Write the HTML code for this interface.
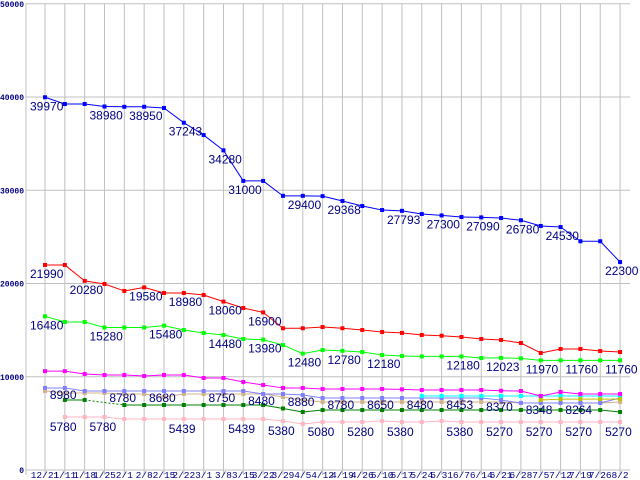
<!DOCTYPE html>
<html><head><meta charset="utf-8"><style>
html,body{margin:0;padding:0;background:#fff;}
svg{display:block;}
</style></head><body>
<svg id="chart" width="640" height="480" xmlns="http://www.w3.org/2000/svg"></svg>
<script>
const categories = ["12/21","1/11","1/18","1/25","2/1","2/8","2/15","2/22","3/1","3/8","3/15","3/22","3/29","4/5","4/12","4/19","4/26","5/10","5/17","5/24","5/31","6/7","6/14","6/21","6/28","7/5","7/12","7/19","7/26","8/2"];
const yTicks = [0,10000,20000,30000,40000,50000];
const blueValues = [39970,39250,39250,38980,38950,38950,38820,37243,35920,34280,31000,31000,29400,29400,29368,28850,28310,27880,27793,27450,27300,27130,27090,27020,26780,26170,26060,24530,24530,22300];
const redValues = [21990,21990,20280,19950,19200,19580,18980,18980,18770,18060,17370,16900,15200,15200,15330,15200,15010,14800,14700,14480,14400,14260,14050,13940,13620,12550,12980,12980,12760,12650];
const limeValues = [16480,15870,15870,15280,15280,15280,15480,15010,14690,14480,14050,13980,13400,12480,12870,12780,12650,12330,12230,12180,12180,12180,12010,12023,11970,11760,11760,11760,11760,11760];
const magentaValues = [10600,10600,10300,10190,10190,10080,10190,10190,9870,9870,9440,9120,8800,8800,8690,8690,8690,8690,8650,8580,8580,8580,8580,8500,8470,7940,8370,8150,8150,8150];
const periwinkleValues = [8800,8800,8470,8470,8470,8470,8470,8470,8470,8470,8470,8150,8150,8040,7720,7720,7720,7720,7720,7720,7720,7720,7720,7500,7190,7190,7190,7190,7190,7720];
const tanValues = [8470,8260,8260,8260,8150,8150,7830,8150,8150,8150,8150,8150,7830,7510,7290,7290,7290,7290,7290,7290,7290,7290,7290,7290,7190,7190,7190,7190,7190,7290];
const darkGreenValues = [null,7510,7510,null,6970,6970,6970,6970,6970,6970,6970,6970,6600,6220,6430,6430,6430,6430,6430,6430,6430,6430,6430,6430,6430,6430,6430,6430,6430,6220];
const pinkValues = [null,5680,5680,5680,5470,5470,5470,5470,5470,5470,5470,5470,5250,4930,5150,5150,5150,5250,5150,5150,5250,5150,5150,5150,5150,5150,5150,5150,5150,5150];
const cyanValues = [null,null,null,null,null,null,null,null,null,null,null,null,null,null,null,null,null,null,null,7940,7940,7940,7940,7940,7940,7940,7940,7940,7940,7940];
const oliveValues = [null,null,null,null,null,null,null,null,null,null,null,null,null,null,null,null,null,null,null,null,null,null,null,null,null,7510,7600,7600,7600,7600];
const blueLabelIdx = [0,3,5,7,9,10,13,15,18,20,22,24,26,29];
const blueLabelText = [39970,38980,38950,37243,34280,31000,29400,29368,27793,27300,27090,26780,24530,22300];
const redLabelIdx = [0,2,5,7,9,11];
const redLabelText = [21990,20280,19580,18980,18060,16900];
const limeLabelIdx = [0,3,6,9,11,13,15,17,21,23,25,27,29];
const limeLabelText = [16480,15280,15480,14480,13980,12480,12780,12180,12180,12023,11970,11760,11760];
const periLabelIdx = [1,4,6,9,11,13,15,17,19,21,23,25,27];
const periLabelText = [8980,8780,8680,8750,8480,8880,8780,8650,8480,8453,8370,8348,8264];
const pinkLabelIdx = [1,3,7,10,12,14,16,18,21,23,25,27,29];
const pinkLabelText = [5780,5780,5439,5439,5380,5080,5280,5380,5380,5270,5270,5270,5270];

const NS="http://www.w3.org/2000/svg";
const svg=document.getElementById('chart');
const X0=45, DX=19.83, Y0=470, YS=0.009325;
function xs(i){return X0+i*DX;}
function ys(v){return Y0-v*YS;}
function mk(tag,attrs,parent){const e=document.createElementNS(NS,tag);for(const k in attrs)e.setAttribute(k,attrs[k]);(parent||svg).appendChild(e);return e;}

const grid=mk('g',{});


categories.forEach((c,i)=>{
  const l=mk('line',{x1:xs(i),x2:xs(i),y1:ys(50000),y2:Y0+5,stroke:'#c0c0c0','stroke-width':1},grid);
  
  
  const t=mk('text',{x:xs(i),y:478,'text-anchor':'middle','font-family':'Liberation Mono, monospace','font-size':'9.5','fill':'#000080'});
  t.textContent=c;
  
  
});
yTicks.forEach(v=>{
  const l=mk('line',{x1:26,x2:630,y1:ys(v),y2:ys(v),stroke:'#c0c0c0','stroke-width':1},grid);
  
  
  const t=mk('text',{x:24,y:ys(v)+3,'text-anchor':'end','font-family':'Liberation Mono, monospace','font-size':'8','font-weight':'bold','fill':'#000080'});
  t.textContent=v;
  
  
});
const ax=mk('line',{x1:26,x2:26,y1:ys(50000),y2:Y0+5,stroke:'#c0c0c0'});



function series(vals,color,name){
  const g=mk('g',{});
  
  
  for(let i=0;i<vals.length-1;i++){
    if(vals[i]==null)continue;
    let j=i+1, dotted=false;
    if(vals[j]==null){ if(j+1<vals.length&&vals[j+1]!=null&&i>0){j=j+1;dotted=true;} else continue; }
    const l=mk('line',{x1:xs(i),y1:ys(vals[i]),x2:xs(j),y2:ys(vals[j]),stroke:color,'stroke-width':1},g);
    if(dotted)l.setAttribute('stroke-dasharray','2,2');
    
    
  }
  vals.forEach((v,i)=>{
    if(v==null)return;
    const r=mk('rect',{x:xs(i)-2,y:ys(v)-2,width:4,height:4,fill:color},g);
    
    
  });
}
function labels(vals,idx,texts,dy,name){
  idx.forEach((i,k)=>{
    const t=mk('text',{x:xs(i)-15,y:ys(vals[i])+dy,'font-family':'Liberation Sans, sans-serif','font-size':'12','fill':'#000080'});
    t.textContent=texts?texts[k]:vals[i];
    
    
  });
}
series(pinkValues,'#ffb6c1','pink-series');
series(darkGreenValues,'#008000','dark-green-series');
series(tanValues,'#d2b48c','tan-series');
series(periwinkleValues,'#8080ff','periwinkle-series');
series(cyanValues,'#00ffff','cyan-series');
series(oliveValues,'#c0c000','olive-series');
series(magentaValues,'#ff00ff','magenta-series');
series(limeValues,'#00ff00','lime-series');
series(redValues,'#ff0000','red-series');
series(blueValues,'#0000ff','blue-series');
labels(blueValues,blueLabelIdx,blueLabelText,13,'blue-value-label');
labels(redValues,redLabelIdx,redLabelText,13,'red-value-label');
labels(limeValues,limeLabelIdx,limeLabelText,13,'lime-value-label');
labels(periwinkleValues,periLabelIdx,periLabelText,11,'periwinkle-value-label');
labels(pinkValues,pinkLabelIdx,pinkLabelText,14,'pink-value-label');
</script>
</body></html>
